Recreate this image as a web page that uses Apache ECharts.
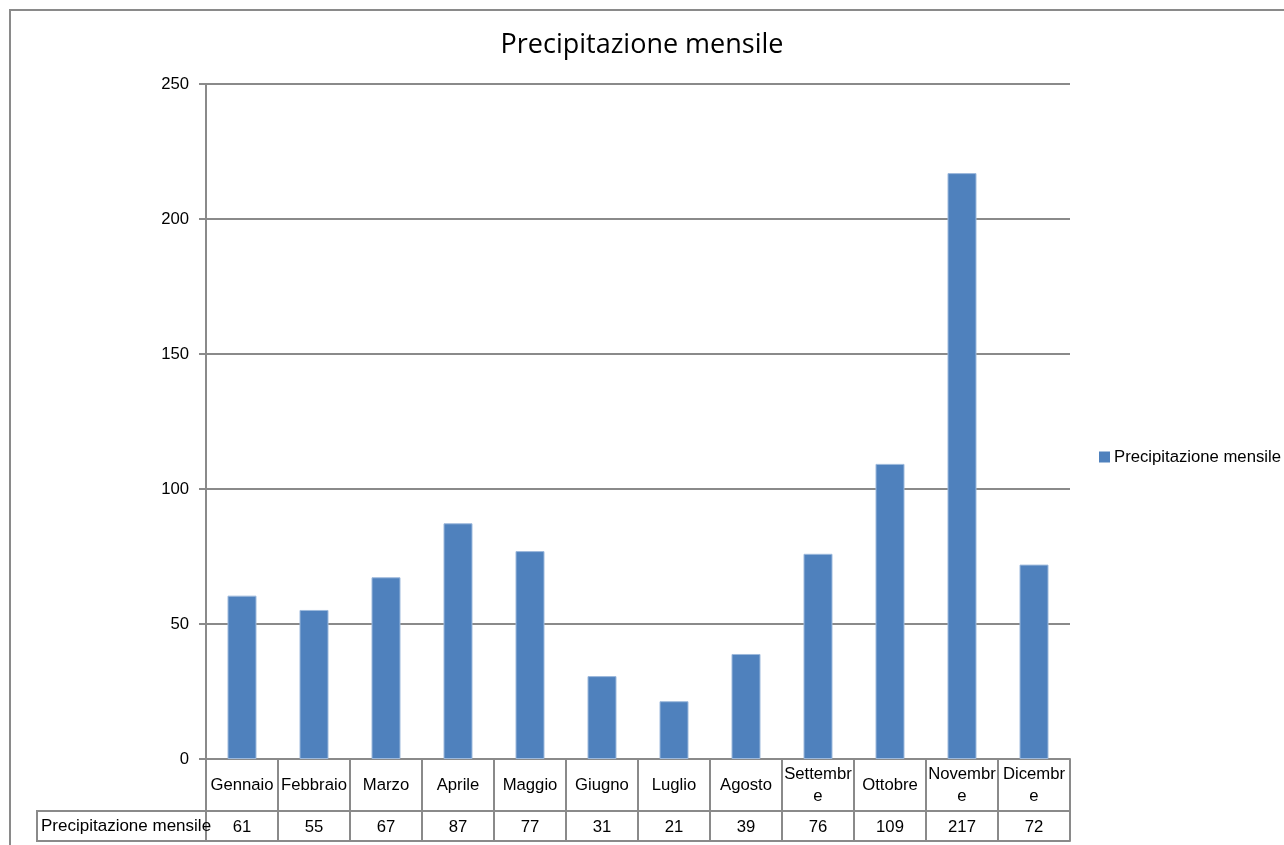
<!DOCTYPE html>
<html>
<head>
<meta charset="utf-8">
<script src="https://cdn.jsdelivr.net/npm/echarts@6/dist/echarts.min.js"></script>
<style>
html,body{margin:0;padding:0;background:#fff;}
#chart{width:1284px;height:845px;}
</style>
</head>
<body>
<div id="chart"></div>
<script>
const chartTitle = 'Precipitazione mensile';
const seriesName = 'Precipitazione mensile';
const categories = ['Gennaio','Febbraio','Marzo','Aprile','Maggio','Giugno','Luglio','Agosto','Settembre','Ottobre','Novembre','Dicembre'];
const tickLabels = ['Gennaio','Febbraio','Marzo','Aprile','Maggio','Giugno','Luglio','Agosto','Settembr\ne','Ottobre','Novembr\ne','Dicembr\ne'];
const values = [60.5, 55.2, 67.3, 87.3, 77, 30.7, 21.4, 38.9, 76, 109.3, 217, 72];
const yMin = 0, yMax = 250, yStep = 50;

const FONT = '"Liberation Sans", Arial, sans-serif';
const FS = 16.7;
const GRAY = '#8a8a8a';

const chart = echarts.init(document.getElementById('chart'), null, {renderer: 'canvas'});
chart.setOption({
  animation: false,
  backgroundColor: '#fff',
  title: {
    text: chartTitle,
    left: 'center',
    top: 29,
    padding: 0,
    textStyle: {fontFamily: '"Open Sans", "Noto Sans", sans-serif', fontSize: 27, fontWeight: 'normal', color: '#000', lineHeight: 32}
  },
  legend: {
    data: [seriesName],
    left: 1099,
    top: 447,
    padding: 0,
    itemWidth: 11,
    itemHeight: 11,
    itemGap: 0,
    icon: 'rect',
    itemStyle: {color: '#4F81BD', borderWidth: 0},
    textStyle: {fontFamily: FONT, fontSize: FS, color: '#000', lineHeight: 20, padding: [0, 0, 0, -1]}
  },
  grid: {left: 206, right: 214, top: 84, bottom: 86, containLabel: false},
  xAxis: [
    {
      type: 'category',
      data: categories,
      position: 'bottom',
      axisLine: {show: true, lineStyle: {color: GRAY, width: 2}},
      axisTick: {show: true, length: 82, alignWithLabel: false, interval: 0, lineStyle: {color: GRAY, width: 2}},
      axisLabel: {
        interval: 0, margin: 26, verticalAlign: 'middle', lineHeight: 22,
        fontFamily: FONT, fontSize: FS, color: '#000',
        formatter: (v, i) => tickLabels[i]
      },
      splitLine: {show: false}
    },
    {
      type: 'category',
      data: categories,
      position: 'bottom',
      offset: 52,
      axisLine: {show: true, lineStyle: {color: GRAY, width: 2}},
      axisTick: {show: false},
      axisLabel: {
        interval: 0, margin: 16, verticalAlign: 'middle',
        fontFamily: FONT, fontSize: FS, color: '#000',
        formatter: (v, i) => String(Math.round(values[i]))
      },
      splitLine: {show: false}
    },
    {
      type: 'category',
      data: categories,
      position: 'bottom',
      offset: 82,
      axisLine: {show: true, lineStyle: {color: GRAY, width: 2}},
      axisTick: {show: false},
      axisLabel: {show: false},
      splitLine: {show: false}
    }
  ],
  yAxis: {
    type: 'value',
    min: yMin, max: yMax, interval: yStep,
    axisLine: {show: true, lineStyle: {color: GRAY, width: 2}},
    axisTick: {show: true, inside: false, length: 7, lineStyle: {color: GRAY, width: 2}},
    axisLabel: {margin: 17, fontFamily: FONT, fontSize: FS, color: '#000'},
    splitLine: {show: true, lineStyle: {color: GRAY, width: 2}}
  },
  series: [{
    name: seriesName,
    type: 'bar',
    xAxisIndex: 0,
    data: values,
    barWidth: 29,
    itemStyle: {color: '#4F81BD', borderColor: '#9DB9DC', borderWidth: 1}
  }],
  graphic: [
    {
      type: 'rect',
      shape: {x: 10, y: 10, width: 1400, height: 1000},
      style: {fill: 'none', stroke: GRAY, lineWidth: 2},
      silent: true, z: 0
    },
    {
      type: 'rect',
      shape: {x: 37, y: 811, width: 169, height: 30},
      style: {fill: 'none', stroke: GRAY, lineWidth: 2},
      silent: true, z: 5
    },
    {
      type: 'text',
      x: 41, y: 826,
      style: {text: seriesName, font: '17px ' + FONT, fill: '#000', verticalAlign: 'middle', align: 'left'},
      silent: true, z: 6
    }
  ]
});
</script>
</body>
</html>
